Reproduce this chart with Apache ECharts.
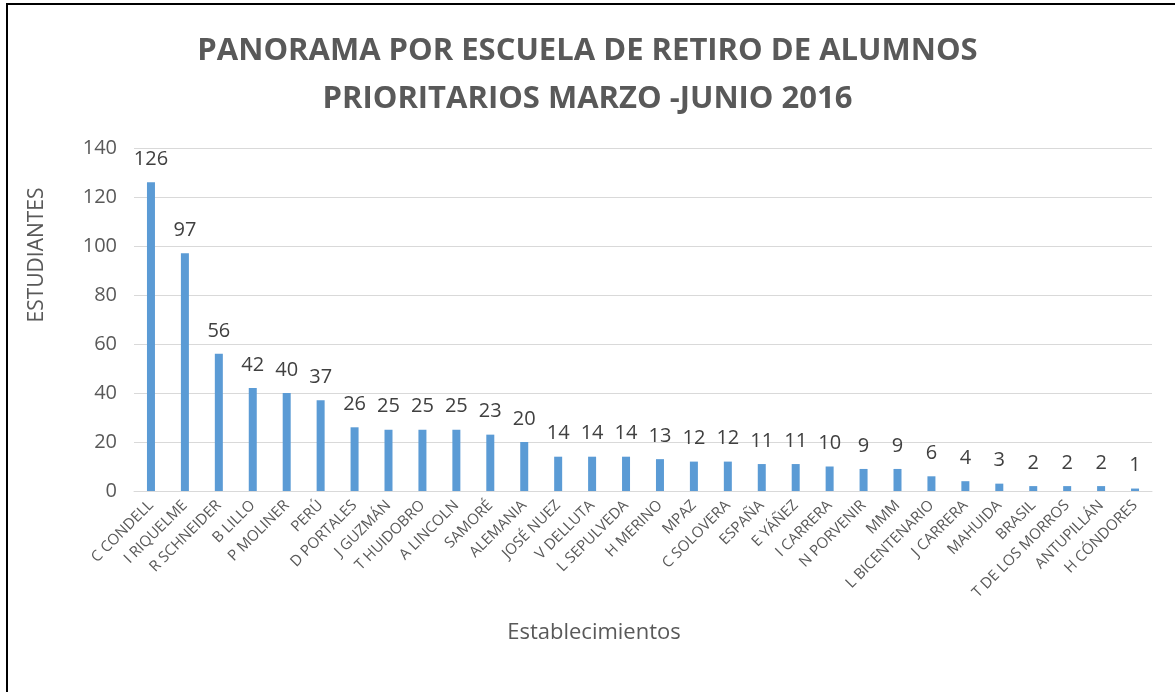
<!DOCTYPE html>
<html>
<head>
<meta charset="utf-8">
<script src="https://cdn.jsdelivr.net/npm/echarts@6/dist/echarts.min.js"></script>
<style>
  html, body { margin: 0; padding: 0; background: #fff; }
  #frame {
    position: absolute; left: 6px; top: 3px; width: 1200px; height: 720px;
    border-left: 2px solid #000; border-top: 2px solid #000;
  }
  #chart { position: absolute; left: 0; top: 0; width: 1175px; height: 692px; }
</style>
</head>
<body>
<div id="frame"></div>
<div id="chart"></div>
<script>
// escuelas y retiros
var escuelas = [
  "C CONDELL", "I RIQUELME", "R SCHNEIDER", "B LILLO", "P MOLINER", "PERÚ",
  "D PORTALES", "J GUZMÁN", "T HUIDOBRO", "A LINCOLN", "SAMORÉ", "ALEMANIA",
  "JOSÉ NUEZ", "V DELLUTA", "L SEPULVEDA", "H MERINO", "MPAZ", "C SOLOVERA",
  "ESPAÑA", "E YÁÑEZ", "I CARRERA", "N PORVENIR", "MMM", "L BICENTENARIO",
  "J CARRERA", "MAHUIDA", "BRASIL", "T DE LOS MORROS", "ANTUPILLÁN", "H CÓNDORES"
];
var retiros = [126, 97, 56, 42, 40, 37, 26, 25, 25, 25, 23, 20, 14, 14, 14, 13, 12, 12, 11, 11, 10, 9, 9, 6, 4, 3, 2, 2, 2, 1];
var yTicks = [0, 20, 40, 60, 80, 100, 120, 140];

var myChart = echarts.init(document.getElementById("chart"));
var option = {
  backgroundColor: "transparent",
  animation: false,
  textStyle: { fontFamily: "Open Sans" },
  title: {
    text: "PANORAMA POR ESCUELA DE RETIRO DE ALUMNOS\nPRIORITARIOS MARZO -JUNIO 2016",
    left: "center",
    top: 22,
    textStyle: { fontSize: 31, fontWeight: "bold", color: "#595959", lineHeight: 48 }
  },
  grid: { left: 134, right: 23, top: 148, bottom: 201 },
  graphic: [
    {
      type: "text",
      x: 37, y: 255, rotation: Math.PI / 2,
      style: { text: "ESTUDIANTES", font: "21px 'Open Sans'", fill: "#595959", align: "center", verticalAlign: "middle" }
    },
    {
      type: "text",
      x: 594, y: 633,
      style: { text: "Establecimientos", font: "22px 'Open Sans'", fill: "#595959", align: "center", verticalAlign: "middle" }
    }
  ],
  xAxis: {
    type: "category",
    data: escuelas,
    axisLine: { lineStyle: { color: "#D9D9D9", width: 1 } },
    axisTick: { show: false },
    axisLabel: { rotate: 45, interval: 0, fontSize: 15, color: "#595959", margin: 12 }
  },
  yAxis: {
    type: "value",
    min: yTicks[0],
    max: yTicks[yTicks.length - 1],
    interval: 20,
    axisLine: { show: false },
    axisTick: { show: false },
    axisLabel: { fontSize: 20, color: "#595959", margin: 17 },
    splitLine: { lineStyle: { color: "#D9D9D9", width: 1 } }
  },
  series: [{
    type: "bar",
    data: retiros,
    barWidth: 8,
    itemStyle: { color: "#5B9BD5" },
    label: {
      show: true,
      position: "top",
      distance: 13,
      fontSize: 20,
      color: "#404040"
    }
  }]
};
myChart.setOption(option);
</script>
</body>
</html>
